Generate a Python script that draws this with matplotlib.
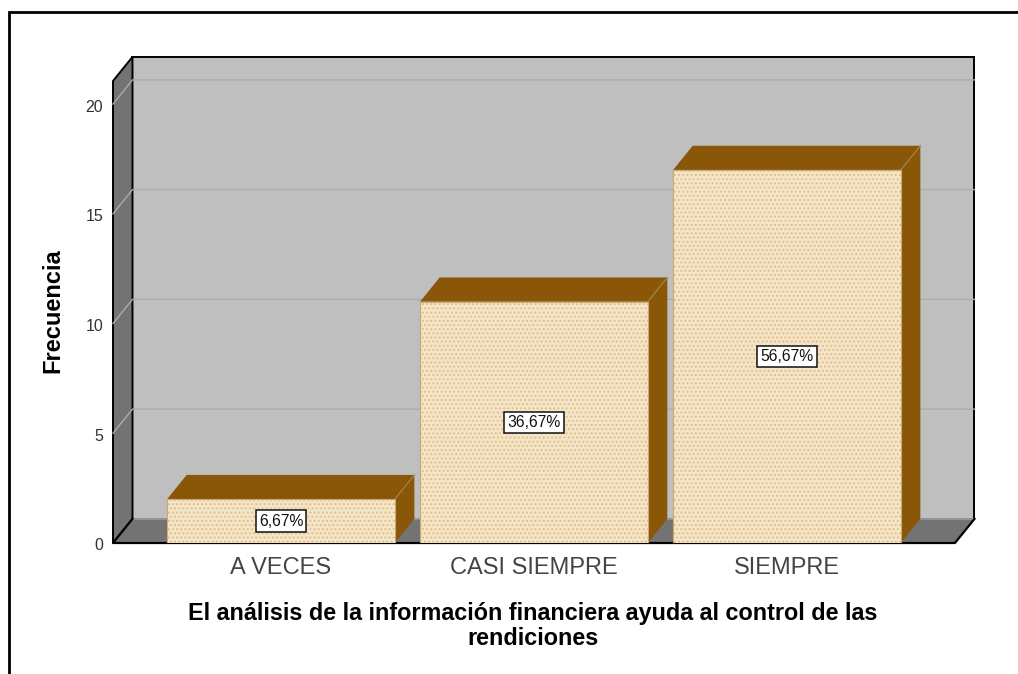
import matplotlib
matplotlib.use("Agg")
import matplotlib.pyplot as plt
from matplotlib.patches import Polygon, Rectangle
from matplotlib.transforms import ScaledTranslation

plt.rcParams['font.family'] = ['Liberation Sans', 'DejaVu Sans']
plt.rcParams['hatch.linewidth'] = 0.9

categories = ["A VECES", "CASI SIEMPRE", "SIEMPRE"]
frecuencia = [2, 11, 17]
porcentaje = ["6,67%", "36,67%", "56,67%"]
y_ticks = [0, 5, 10, 15, 20]

W, H = 1018, 674
# 3d offset of the back wall, in data units
DX = 0.077
DY = 1.1
BAR_W = 0.9


def poly(ax, pts, fc, ec='none', lw=0, z=1, **kw):
    ax.add_patch(Polygon(pts, closed=True, facecolor=fc, edgecolor=ec, linewidth=lw,
                         zorder=z, clip_on=False, **kw))


fig = plt.figure(figsize=(W / 100, H / 100), dpi=100)
ax = fig.add_axes([113 / W, 1 - 543 / H, (955 - 113) / W, (543 - 81) / H])
ax.set_xlim(-0.664, 2.664)
ax.set_ylim(0, 21.05)
for s in ax.spines.values():
    s.set_visible(False)
ax.patch.set_visible(False)

x0, x1 = ax.get_xlim()
y0, y1 = ax.get_ylim()

# outer frame
fig.add_artist(Rectangle((9 / W, -0.05), 1.2, 1 - 12 / H + 0.05, transform=fig.transFigure,
                         facecolor='none', edgecolor='black', linewidth=2))

# back wall, side wall and floor
back = [(x0 + DX, y0 + DY), (x1 + DX, y0 + DY), (x1 + DX, y1 + DY), (x0 + DX, y1 + DY)]
poly(ax, back, '#bfbfbf', 'black', 1.4, z=1)
poly(ax, [(x0, y0), (x0 + DX, y0 + DY), (x0 + DX, y1 + DY), (x0, y1)], '#737373', 'black', 1.4, z=2)
poly(ax, [(x0, y0), (x1, y0), (x1 + DX, y0 + DY), (x0 + DX, y0 + DY)], '#737373', 'none', 0, z=2)

# grid lines go round the back and the side
for t in y_ticks:
    ax.plot([x0, x0 + DX, x1 + DX], [t, t + DY, t + DY], color='#acacac', lw=1.0, zorder=3,
            clip_on=False, solid_joinstyle='miter')

# floor edges on top of the grid
ax.plot([x0 + DX, x0, x1, x1 + DX], [y0 + DY, y0, y0, y0 + DY], color='black', lw=1.6, zorder=4,
        clip_on=False)

for i, v in enumerate(frecuencia):
    l, r = i - BAR_W / 2, i + BAR_W / 2
    poly(ax, [(l, v), (r, v), (r + DX, v + DY), (l + DX, v + DY)], '#8a5608', 'none', 0, z=5)
    poly(ax, [(r, 0), (r + DX, DY), (r + DX, v + DY), (r, v)], '#8a5608', 'none', 0, z=5)
    ax.plot([r, r + DX], [v, v + DY], color='#a8854f', lw=0.8, zorder=5.5, clip_on=False)
    ax.bar(i, v, BAR_W, color='#f1e6cb', edgecolor='#edbb78', linewidth=0, hatch='....', zorder=6)
    ax.add_patch(Rectangle((l, 0), BAR_W, v, facecolor='none', edgecolor='#c8aa78', linewidth=0.8,
                           zorder=7))
    ax.text(i, v / 2, porcentaje[i], ha='center', va='center', fontsize=11.3, color='#111111', zorder=8,
            bbox=dict(boxstyle='square,pad=0.2', facecolor='white', edgecolor='#111111', linewidth=1.1))

ax.set_xticks(range(len(categories)))
ax.set_xticklabels(categories, fontsize=17, color='#444444')
ax.set_yticks(y_ticks)
ax.tick_params(axis='y', labelsize=11.5, labelcolor='#333333', length=0, pad=7)
ax.tick_params(axis='x', length=0, pad=10)
# tick labels sit a little under their grid line in the reference
shift = ScaledTranslation(0, -1.5 / 100, fig.dpi_scale_trans)
for lab in ax.get_yticklabels():
    lab.set_transform(lab.get_transform() + shift)

fig.text(53 / W, 1 - 311 / H, "Frecuencia", rotation=90, ha='center', va='center',
         fontsize=17, fontweight='bold')
fig.text(533 / W, 1 - 626 / H, "El análisis de la información financiera ayuda al control de las\nrendiciones",
         ha='center', va='center', fontsize=16.85, fontweight='bold', linespacing=1.1)

fig.savefig('out.png', dpi=100)
